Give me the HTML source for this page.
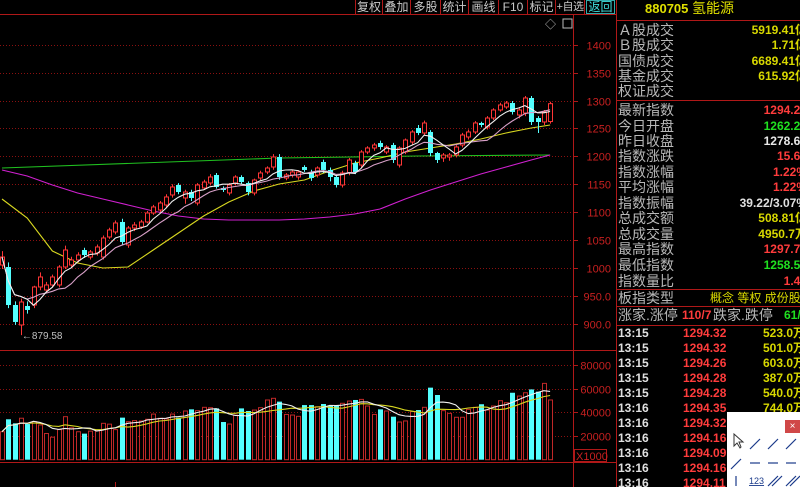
<!DOCTYPE html>
<html><head><meta charset="utf-8">
<style>
html,body{margin:0;padding:0;background:#000;width:800px;height:487px;overflow:hidden;font-family:"Liberation Sans","Noto Sans CJK SC",sans-serif;}
#wrap{position:relative;width:800px;height:487px;overflow:hidden;}
svg{position:absolute;left:0;top:0;}
.tb{position:absolute;top:0;height:14px;font-size:12px;line-height:14px;color:#c8c8c8;text-align:center;white-space:nowrap;overflow:hidden;}
.lab{position:absolute;left:618px;font-size:14px;line-height:15px;color:#b8b8b8;white-space:nowrap;}
.val{position:absolute;right:-7px;font-size:12px;line-height:15px;font-weight:bold;white-space:nowrap;text-align:right;}
.tk{position:absolute;font-size:12px;line-height:15px;font-weight:bold;white-space:nowrap;}
</style></head><body>
<div id="wrap">
<svg id="chart" width="800" height="487"></svg>

<div class="tb" style="left:356px;width:26px">复权</div>
<div class="tb" style="left:383px;width:27px">叠加</div>
<div class="tb" style="left:411px;width:29px">多股</div>
<div class="tb" style="left:441px;width:27px">统计</div>
<div class="tb" style="left:469px;width:29px">画线</div>
<div class="tb" style="left:499px;width:28px">F10</div>
<div class="tb" style="left:528px;width:27px">标记</div>
<div class="tb" style="left:556px;width:28px;font-size:11px;letter-spacing:-0.5px">+自选</div>
<div class="tb" style="left:586px;width:27px;color:#40e0e0;border:1px solid #3aa;height:12px;line-height:12px">返回</div>

<div style="position:absolute;left:645px;top:0;font-size:13px;line-height:17px;color:#e0e000;font-weight:bold">880705 <span style="font-weight:normal;font-size:14px">氢能源</span></div>

<div class="lab" style="top:23px">Ａ股成交</div>
<div class="val" style="top:23px;color:#d8d800">5919.41亿</div>
<div class="lab" style="top:38px">Ｂ股成交</div>
<div class="val" style="top:38px;color:#d8d800">1.71亿</div>
<div class="lab" style="top:54px">国债成交</div>
<div class="val" style="top:54px;color:#d8d800">6689.41亿</div>
<div class="lab" style="top:69px">基金成交</div>
<div class="val" style="top:69px;color:#d8d800">615.92亿</div>
<div class="lab" style="top:84px">权证成交</div>

<div class="lab" style="top:103px">最新指数</div>
<div class="val" style="top:103px;color:#ff3c3c">1294.29</div>
<div class="lab" style="top:119px">今日开盘</div>
<div class="val" style="top:119px;color:#20e020">1262.29</div>
<div class="lab" style="top:134px">昨日收盘</div>
<div class="val" style="top:134px;color:#e8e8e8">1278.67</div>
<div class="lab" style="top:149px">指数涨跌</div>
<div class="val" style="top:149px;color:#ff3c3c">15.64</div>
<div class="lab" style="top:165px">指数涨幅</div>
<div class="val" style="top:165px;color:#ff3c3c">1.22%</div>
<div class="lab" style="top:180px">平均涨幅</div>
<div class="val" style="top:180px;color:#ff3c3c">1.22%</div>
<div class="lab" style="top:196px">指数振幅</div>
<div class="val" style="top:196px;color:#e0e0e0">39.22/3.07%</div>
<div class="lab" style="top:211px">总成交额</div>
<div class="val" style="top:211px;color:#d8d800">508.81亿</div>
<div class="lab" style="top:227px">总成交量</div>
<div class="val" style="top:227px;color:#d8d800">4950.7万</div>
<div class="lab" style="top:242px">最高指数</div>
<div class="val" style="top:242px;color:#ff3c3c">1297.79</div>
<div class="lab" style="top:258px">最低指数</div>
<div class="val" style="top:258px;color:#20e020">1258.56</div>
<div class="lab" style="top:274px">指数量比</div>
<div class="val" style="top:274px;color:#ff3c3c">1.48</div>

<div class="lab" style="top:291px">板指类型</div>
<div class="tk" style="top:291px;left:710px;color:#d8d800;font-weight:normal">概念 等权 成份股</div>
<div class="lab" style="top:308px">涨家.涨停</div>
<div class="tk" style="top:308px;left:682px;color:#ff3c3c">110/7</div>
<div class="lab" style="top:308px;left:713px">跌家.跌停</div>
<div class="tk" style="top:308px;left:784px;color:#20e020">61/4</div>

<div id="ticks"></div>

<svg width="800" height="487" style="pointer-events:none">
<line x1="616.5" y1="0" x2="616.5" y2="487" stroke="#b01818" stroke-width="1"/>
<line x1="616" y1="20.5" x2="800" y2="20.5" stroke="#b01818"/>
<line x1="616" y1="100.5" x2="800" y2="100.5" stroke="#b01818"/>
<line x1="616" y1="289.5" x2="800" y2="289.5" stroke="#b01818"/>
<line x1="616" y1="306.5" x2="800" y2="306.5" stroke="#b01818"/>
<line x1="616" y1="325.5" x2="800" y2="325.5" stroke="#b01818"/>
</svg>

<div style="position:absolute;left:727px;top:412px;width:73px;height:75px;background:#fff">
<div style="position:absolute;left:58px;top:8px;width:15px;height:13px;background:#d04848;color:#fff;font-size:10px;line-height:13px;text-align:center">×</div>
<svg width="73" height="75" style="position:absolute;left:0;top:0">
<path d="M7 22 L7 34 L10 31 L13 36 L14 35 L12 30 L16 30 Z" fill="#fff" stroke="#333"/>
<g stroke="#1a3a8a" stroke-width="1.2">
<line x1="23" y1="37" x2="33" y2="27"/><line x1="41" y1="37" x2="51" y2="27"/><line x1="59" y1="37" x2="69" y2="27"/>
<line x1="4" y1="57" x2="14" y2="47"/><line x1="23" y1="51" x2="33" y2="51"/><line x1="41" y1="51" x2="51" y2="51"/><line x1="59" y1="51" x2="69" y2="51"/>
<line x1="9" y1="64" x2="9" y2="74"/><line x1="41" y1="74" x2="51" y2="64"/><line x1="45" y1="74" x2="55" y2="64"/><line x1="59" y1="74" x2="69" y2="64"/><line x1="63" y1="74" x2="73" y2="64"/>
</g>
<text x="22" y="72" font-size="9" fill="#1a3a8a" style="text-decoration:underline">123</text>
</svg>
</div>
</div>

<script>
// ---- chart data ----
const opens=[1005.2,1001.6,933.5,897.7,931.7,933.5,965.8,960.4,969.4,969.4,1001.6,1005.2,1014.2,1032.1,1019.5,1026.7,1019.5,1055.4,1064.4,1082.3,1041.1,1071.5,1073.3,1082.3,1098.4,1103.8,1112.7,1130.7,1148.6,1125.3,1136,1116.3,1143.2,1152.2,1166.5,1143.2,1134.3,1152.2,1162.9,1152.2,1134.3,1161.1,1171.9,1180.8,1198.8,1161.1,1166.5,1162.9,1180.8,1171.9,1166.5,1189.8,1175.5,1162.9,1148.6,1170.1,1188,1184.4,1207.7,1214.9,1223.8,1207.7,1220.3,1184.4,1207.7,1225.6,1250.7,1241.8,1243.6,1205.9,1197,1198.8,1202.3,1220.3,1234.6,1243.6,1259.7,1252.5,1268.6,1283,1288.4,1295.5,1274,1277.6,1304.5,1268.6,1261.5,1262.29];
const closes=[1019.5,933.5,903.1,938.9,924.6,965.8,983.7,969.4,983.7,1001.6,1032.1,1014.2,1023.1,1023.1,1028.5,1037.5,1053.6,1068,1080.5,1046.4,1071.5,1076.9,1082.3,1098.4,1109.2,1116.3,1127.1,1145,1136,1136,1125.3,1148.6,1153.9,1162.9,1145,1139.6,1148.6,1162.9,1153.9,1136,1157.5,1170.1,1179,1198.8,1162.9,1166.5,1171.9,1171.9,1175.5,1161.1,1179,1175.5,1162.9,1148.6,1170.1,1193.4,1171.9,1207.7,1214.9,1220.3,1216.7,1216.7,1193.4,1214.9,1229.2,1243.6,1241.8,1259.7,1205.9,1193.4,1202.3,1202.3,1216.7,1238.2,1243.6,1259.7,1256.1,1268.6,1283,1292,1295.5,1279.4,1283,1304.5,1261.5,1261.5,1279.4,1294.29];
const highs=[1030,1010,940,945,940,968,992,975,988,1005,1040,1020,1028,1036,1032,1042,1058,1072,1085,1088,1075,1082,1086,1102,1113,1120,1132,1150,1152,1140,1140,1152,1158,1168,1170,1146,1152,1166,1166,1155,1160,1174,1182,1204,1204,1170,1176,1175,1184,1176,1182,1194,1180,1166,1174,1197,1192,1211,1218,1224,1228,1220,1224,1218,1232,1247,1256,1264,1247,1208,1206,1206,1220,1242,1248,1263,1262,1272,1286,1296,1299,1299,1286,1308,1308,1272,1283,1297.79];
const lows=[998,928,898,879.58,918,928,960,956,965,965,998,1000,1010,1018,1015,1022,1015,1052,1060,1042,1036,1066,1070,1080,1095,1100,1108,1126,1132,1115,1120,1112,1140,1148,1142,1136,1130,1148,1150,1130,1130,1157,1168,1176,1158,1157,1162,1158,1172,1156,1162,1170,1155,1144,1144,1166,1168,1180,1204,1210,1212,1204,1188,1180,1204,1220,1238,1238,1200,1188,1190,1192,1198,1216,1230,1240,1252,1248,1265,1280,1285,1275,1268,1272,1256,1241.8,1256,1258.5];
const volumes=[23.6,34.1,30.7,35.0,30.1,32.1,29.3,22.1,19.0,25.4,36.3,26.9,23.6,22.0,24.1,24.6,30.7,30.0,25.4,35.5,32.1,33.0,32.7,34.1,38.5,35.0,34.4,38.5,35.5,41.1,42.5,41.4,44.2,43.9,43.3,31.8,30.1,37.7,43.3,41.1,41.9,43.9,50.4,51.8,49.0,38.2,37.7,36.6,46.1,46.1,44.7,47.0,45.3,45.3,47.6,49.5,50.4,50.9,45.3,38.2,42.5,41.1,36.3,31.8,32.7,40.6,41.9,44.2,60.8,54.6,41.4,39.1,35.8,35.8,42.5,44.2,46.8,41.9,45.3,49.8,48.1,56.5,53.7,56.5,59.3,57.4,64.4,50.4];
const maIdx=[0,4,8,12,16,20,24,28,32,36,40,44,48,52,56,60,64,68,72,76,80,84,87];
const maYellow=[1123.5,1089.4,1030.3,1008.8,999.8,1001.6,1032.1,1062.6,1093.0,1118.1,1137.8,1150.4,1157.5,1173.7,1188.0,1197.0,1207.7,1214.9,1222.1,1231.0,1241.8,1250.7,1256.1];
const maMagenta=[1175.5,1164.7,1148.6,1134.3,1123.5,1112.7,1102.0,1093.0,1087.7,1085.9,1085.9,1085.9,1087.7,1091.2,1096.6,1105.6,1123.5,1139.6,1153.9,1168.3,1180.8,1193.4,1202.3];
const greenIdx=[0,22,44,66,87];
const maGreen=[1179,1188,1197,1200.6,1202.3];
const priceTicks=[1400,1350,1300,1250,1200,1150,1100,1050,1000,950,900];
const priceTickLabels=["1400","1350","1300","1250","1200","1150","1100","1050","1000","950.0","900.0"];
const volTicks=[80,60,40,20];
const volTickLabels=["80000","60000","40000","20000"];
const tickTimes=["13:15","13:15","13:15","13:15","13:15","13:16","13:16","13:16","13:16","13:16","13:16"];
const tickPrices=["1294.32","1294.32","1294.26","1294.28","1294.28","1294.35","1294.32","1294.16","1294.09","1294.16","1294.11"];
const tickVols=["523.0万","501.0万","603.0万","387.0万","540.0万","744.0万","","","","",""];

// ---- axes ----
const xOf=i=>2+6.3*i;
const yP=p=>44.7+(1400-p)*27.9/50;
const yV=v=>459.7-v*23.7/20;
const NS='http://www.w3.org/2000/svg';
const svg=document.getElementById('chart');
function mk(tag,attrs,parent){const e=document.createElementNS(NS,tag);for(const k in attrs)e.setAttribute(k,attrs[k]);(parent||svg).appendChild(e);return e;}
function ma(arr,n){return arr.map((_,i)=>{const s=Math.max(0,i-n+1);let t=0;for(let j=s;j<=i;j++)t+=arr[j];return t/(i-s+1);});}
function poly(xs,ys,color,name,parent){const pts=xs.map((x,k)=>x.toFixed(1)+','+ys[k].toFixed(1)).join(' ');const p=mk('polyline',{points:pts,fill:'none',stroke:color,'stroke-width':1.1},parent);


return p;}

const RED='#ff3636',CY='#54ffff',GRID='#8a1010',AX='#b01818',LBL='#c82020';

mk('line',{x1:0,y1:14.5,x2:616,y2:14.5,stroke:AX});
mk('line',{x1:0,y1:350.5,x2:616,y2:350.5,stroke:AX});
mk('line',{x1:0,y1:462.5,x2:616,y2:462.5,stroke:AX});
mk('line',{x1:573.5,y1:14,x2:573.5,y2:487,stroke:AX});
mk('line',{x1:115.5,y1:482,x2:115.5,y2:487,stroke:AX});
[355,382,410,440,468,498,527,555,584].forEach(x=>mk('line',{x1:x+.5,y1:0,x2:x+.5,y2:14,stroke:AX}));
const ic=mk('text',{x:545,y:28,'font-size':11,fill:'#bbb'});ic.textContent='◇';


const bx=mk('rect',{x:563,y:19,width:9,height:9,fill:'none',stroke:'#bbb'});



const gAx=mk('g',{});


priceTicks.forEach((p,k)=>{
  const y=Math.round(yP(p))+.5;
  mk('line',{x1:0,y1:y,x2:573,y2:y,stroke:GRID,'stroke-dasharray':'1,2'},gAx);
  mk('line',{x1:573,y1:y,x2:578,y2:y,stroke:AX},gAx);
  const t=mk('text',{x:611,y:y+4,'text-anchor':'end','font-size':11,fill:LBL,'font-family':'Liberation Sans, sans-serif'},gAx);
  t.textContent=priceTickLabels[k];
  
  
});
const gVa=mk('g',{});


volTicks.forEach((v,k)=>{
  const y=Math.round(yV(v))+.5;
  mk('line',{x1:0,y1:y,x2:573,y2:y,stroke:GRID,'stroke-dasharray':'1,2'},gVa);
  mk('line',{x1:573,y1:y,x2:578,y2:y,stroke:AX},gVa);
  const t=mk('text',{x:611,y:y+4,'text-anchor':'end','font-size':11,fill:LBL},gVa);
  t.textContent=volTickLabels[k];
  
  
});
mk('rect',{x:574.5,y:449.5,width:32,height:12,fill:'none',stroke:AX},gVa);
const xu=mk('text',{x:576,y:460,'font-size':11,fill:LBL},gVa);xu.textContent='X1000';



poly(greenIdx.map(xOf),maGreen.map(yP),'#20c020','ma-green-line');
poly(maIdx.map(xOf),maMagenta.map(yP),'#d020d0','ma-magenta-line');
poly(maIdx.map(xOf),maYellow.map(yP),'#d8d820','ma-yellow-line');

const gC=mk('g',{});


opens.forEach((o,i)=>{
  const c=closes[i],x=Math.round(xOf(i))+.5,up=c>=o;
  const top=yP(Math.max(o,c)),bot=yP(Math.min(o,c));
  const col=up?RED:CY;
  const g=mk('g',{},gC);
  
  
  mk('line',{x1:x,y1:yP(highs[i]),x2:x,y2:top,stroke:col},g);
  mk('line',{x1:x,y1:bot,x2:x,y2:yP(lows[i]),stroke:col},g);
  if(up) mk('rect',{x:x-2,y:top,width:4,height:Math.max(1,bot-top),fill:'#000',stroke:col},g);
  else mk('rect',{x:x-2.5,y:top,width:5,height:Math.max(1,bot-top),fill:col},g);
});
poly(opens.map((_,i)=>xOf(i)),ma(closes,10).map(yP),'#d8a0c8','ma10-line');
poly(opens.map((_,i)=>xOf(i)),ma(closes,5).map(yP),'#f0f0f0','ma5-line');

const lowI=lows.indexOf(Math.min(...lows));
const an=mk('text',{x:xOf(lowI)+1,y:yP(lows[lowI])+4,'font-size':10,fill:'#c0c0c0'});
an.textContent='←'+Math.min(...lows).toFixed(2);



const gV=mk('g',{});


volumes.forEach((v,i)=>{
  const x=Math.round(xOf(i))+.5,up=closes[i]>=opens[i],y=yV(v),b=yV(0);
  let r;
  if(up) r=mk('rect',{x:x-2,y:y,width:4,height:b-y,fill:'#000',stroke:'#c02828'},gV);
  else r=mk('rect',{x:x-2.5,y:y,width:5,height:b-y,fill:CY},gV);
  
  
});
poly(volumes.map((_,i)=>xOf(i)),ma(volumes,10).map(yV),'#d8d820','volume-ma10-line');
poly(volumes.map((_,i)=>xOf(i)),ma(volumes,5).map(yV),'#f0f0f0','volume-ma5-line');

const tl=document.getElementById('ticks');
tickTimes.forEach((t,k)=>{
  const top=326+k*15;
  const row=document.createElement('div');
  
  
  row.innerHTML='<div class="tk" style="top:'+top+'px;left:618px;color:#e0e0e0">'+t+'</div><div class="tk" style="top:'+top+'px;left:683px;color:#ff3c3c">'+tickPrices[k]+'</div><div class="tk" style="top:'+top+'px;left:763px;color:#d8d800">'+tickVols[k]+'</div>';
  tl.appendChild(row);
});
</script>
</body></html>
